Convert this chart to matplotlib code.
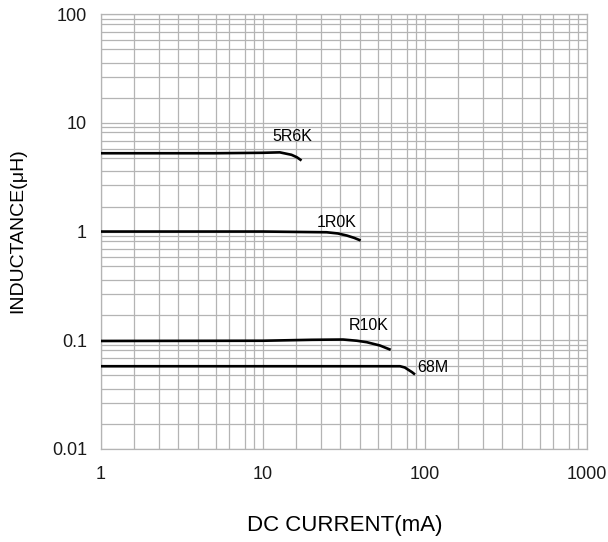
import matplotlib
matplotlib.use('Agg')
import matplotlib.pyplot as plt
import matplotlib.ticker as mticker
import numpy as np

plt.rcParams['font.family'] = ['Liberation Sans', 'DejaVu Sans']

i_5r6k = [1, 5, 10, 12.7, 15.0, 16.2, 17.3]
l_5r6k = [5.25, 5.25, 5.3, 5.35, 5.08, 4.82, 4.5]

i_1r0k = [1, 10, 24.7, 29.0, 32.9, 36.5, 40.1]
l_1r0k = [1.0, 1.0, 0.985, 0.96, 0.919, 0.875, 0.827]

i_r10k = [1, 10, 20, 31.2, 38.0, 43.7, 52.7, 61.4]
l_r10k = [0.0985, 0.099, 0.101, 0.1016, 0.099, 0.096, 0.0895, 0.0817]

i_68m = [1, 10, 70.1, 75.0, 78.9, 83.0, 86.8]
l_68m = [0.0577, 0.0577, 0.0577, 0.0562, 0.0535, 0.051, 0.0484]

nomes = ['5R6K', '1R0K', 'R10K', '68M']
pos_x = [15.1, 28.6, 45.1, 112]
pos_y = [7.5, 1.21, 0.137, 0.056]

fig = plt.figure(figsize=(6.08, 5.42), dpi=100)
ax = fig.add_axes([0.166, 0.1716, 0.7995, 0.8024])

for i_, l_ in [(i_5r6k, l_5r6k), (i_1r0k, l_1r0k), (i_r10k, l_r10k), (i_68m, l_68m)]:
    ax.plot(i_, l_, color='black', lw=1.9, solid_capstyle='butt', zorder=3)

for nome, x, y in zip(nomes, pos_x, pos_y):
    ax.text(x, y, nome, fontsize=11.5, ha='center', va='center',
            family=['Liberation Sans Narrow', 'Liberation Sans'], zorder=4)

ax.set_xscale('log')
ax.set_yscale('log')
ax.set_xlim(1, 1000)
ax.set_ylim(0.01, 100)

# grade do papel (linhas secundarias irregulares como no original)
fx = [0.204, 0.358, 0.475, 0.599, 0.71, 0.793, 0.889, 0.944]
fy = [0.23, 0.425, 0.553, 0.68, 0.763, 0.836, 0.912, 0.958]
ax.xaxis.set_minor_locator(mticker.FixedLocator([10 ** (d + f) for d in range(0, 3) for f in fx]))
ax.yaxis.set_minor_locator(mticker.FixedLocator([10 ** (d + f) for d in range(-2, 2) for f in fy]))
ax.xaxis.set_major_locator(mticker.FixedLocator([1, 10, 100, 1000]))
ax.yaxis.set_major_locator(mticker.FixedLocator([0.01, 0.1, 1, 10, 100]))
ax.xaxis.set_major_formatter(mticker.FixedFormatter(['1', '10', '100', '1000']))
ax.yaxis.set_major_formatter(mticker.FixedFormatter(['0.01', '0.1', '1', '10', '100']))
ax.xaxis.set_minor_formatter(mticker.NullFormatter())
ax.yaxis.set_minor_formatter(mticker.NullFormatter())

ax.grid(True, which='both', color='#b4b4b4', lw=0.9)
ax.tick_params(which='both', length=0, labelsize=13, colors='#1a1a1a')
ax.tick_params(axis='x', pad=12)
ax.tick_params(axis='y', pad=10)
for s in ax.spines.values():
    s.set_color('#b4b4b4')
    s.set_linewidth(0.9)

fig.text(0.567, 0.03, 'DC CURRENT(mA)', fontsize=16, ha='center', va='center')
fig.text(0.03, 0.575, 'INDUCTANCE(μH)', fontsize=14, ha='center', va='center', rotation=90)

plt.savefig('out.png', dpi=100)
